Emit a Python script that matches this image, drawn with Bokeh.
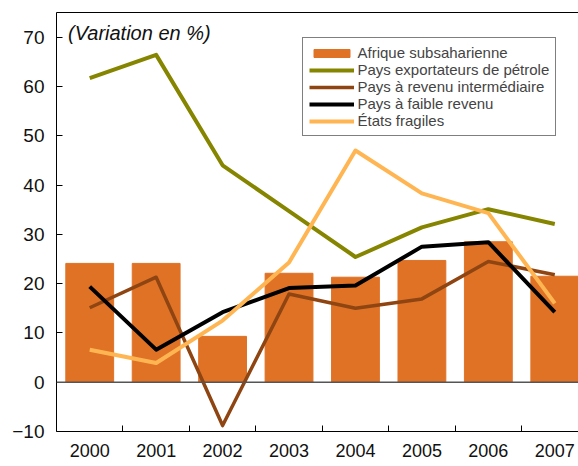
from bokeh.plotting import figure
from bokeh.models import Range1d, FixedTicker, LinearAxis, Span, Label
from bokeh.embed import file_html
from bokeh.resources import INLINE

years = ["2000", "2001", "2002", "2003", "2004", "2005", "2006", "2007"]
afrique = [24.1, 24.1, 9.3, 22.1, 21.3, 24.7, 28.5, 21.5]
petrole = [61.7, 66.4, 44.0, 34.7, 25.4, 31.4, 35.1, 32.1]
intermediaire = [15.1, 21.3, -8.8, 17.9, 15.0, 16.9, 24.5, 21.8]
faible = [19.4, 6.6, 14.2, 19.1, 19.6, 27.5, 28.4, 14.2]
fragiles = [6.6, 3.9, 12.5, 24.3, 47.0, 38.3, 34.3, 16.0]
y_ticks = [-10, 0, 10, 20, 30, 40, 50, 60, 70]

FONT = "Liberation Sans"
x = list(range(len(years)))

p = figure(width=578, height=466, output_backend="svg", toolbar_location=None,
           x_range=Range1d(-0.5, 7.357), y_range=Range1d(-10, 75),
           min_border_left=56, min_border_right=0, min_border_top=12, min_border_bottom=35)
p.xgrid.visible = False
p.ygrid.visible = False
p.outline_line_color = None
p.background_fill_color = "white"

p.vbar(x=x, top=afrique, bottom=0, width=0.72, color="#E07226",
       legend_label="Afrique subsaharienne")
p.line(x, petrole, line_width=4, color="#858500", line_join="round",
       legend_label="Pays exportateurs de pétrole")
p.line(x, intermediaire, line_width=3.5, color="#8E4512", line_join="round",
       legend_label="Pays à revenu intermédiaire")
p.line(x, faible, line_width=4, color="#000000", line_join="round",
       legend_label="Pays à faible revenu")
p.line(x, fragiles, line_width=4, color="#FFB552", line_join="round",
       legend_label="États fragiles")

p.add_layout(Span(location=0, dimension="width", line_color="#555555", line_width=1.5))

xa = p.xaxis[0]
xa.ticker = FixedTicker(ticks=x, minor_ticks=[i + 0.5 for i in range(len(years) - 1)])
xa.major_label_overrides = {i: y for i, y in enumerate(years)}
xa.major_tick_in = 0
xa.major_tick_out = 0
xa.minor_tick_in = 6
xa.minor_tick_out = 0
xa.minor_tick_line_color = "black"
xa.axis_line_color = "black"
xa.major_label_standoff = 12
xa.major_label_text_font = FONT
xa.major_label_text_font_size = "18px"
xa.major_label_text_color = "#111111"

ya = p.yaxis[0]
ya.ticker = FixedTicker(ticks=y_ticks)
ya.major_tick_in = 6
ya.major_tick_out = 0
ya.minor_tick_in = 0
ya.minor_tick_out = 0
ya.axis_line_color = "black"
ya.major_tick_line_color = "black"
ya.major_label_standoff = 12
ya.major_label_text_font = FONT
ya.major_label_text_font_size = "19px"
ya.major_label_text_color = "#111111"

top = LinearAxis(ticker=FixedTicker(ticks=[]), major_tick_in=0, major_tick_out=0,
                 minor_tick_in=0, minor_tick_out=0, major_label_text_font_size="0px",
                 major_label_standoff=0, axis_line_color="black")
p.add_layout(top, "above")

p.add_layout(Label(x=11.5, y=399, x_units="screen", y_units="screen",
                   text="(Variation en %)", text_font=FONT, text_font_style="italic",
                   text_font_size="20px", text_baseline="middle", text_color="#111111"))

lg = p.legend[0]
lg.location = (245.5, 295)
lg.border_line_color = "black"
lg.border_line_width = 1
lg.padding = 6
lg.spacing = 0
lg.margin = 0
lg.glyph_width = 45
lg.glyph_height = 10
lg.label_height = 14
lg.label_standoff = 4
lg.label_text_font = FONT
lg.label_text_font_size = "15px"
lg.label_text_line_height = 1.0
lg.background_fill_alpha = 1

open("out.html", "w").write(file_html(p, INLINE))
